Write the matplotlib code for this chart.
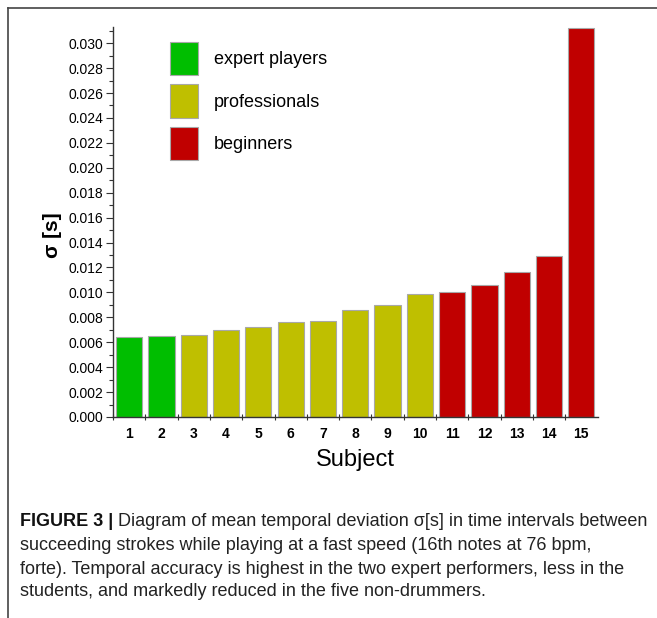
import matplotlib
matplotlib.use("Agg")
import matplotlib.pyplot as plt
from matplotlib.patches import Rectangle
from matplotlib.lines import Line2D
from matplotlib.ticker import MultipleLocator, FixedLocator, NullFormatter, FormatStrFormatter

plt.rcParams['font.family'] = ['Liberation Sans', 'DejaVu Sans']

subjects = list(range(1, 16))
sigma = [0.0064, 0.0065, 0.0066, 0.0070, 0.0072, 0.0076, 0.0077, 0.0086,
         0.0090, 0.0099, 0.0100, 0.0106, 0.0116, 0.0129, 0.0312]
groups = ['expert players'] * 2 + ['professionals'] * 8 + ['beginners'] * 5
group_names = ['expert players', 'professionals', 'beginners']
group_colors = {'expert players': '#00BE00', 'professionals': '#BFBF00', 'beginners': '#C00000'}
caption_bold = "FIGURE 3 |"
caption_lines = [
    " Diagram of mean temporal deviation \u03c3[s] in time intervals between",
    "succeeding strokes while playing at a fast speed (16th notes at 76 bpm,",
    "forte). Temporal accuracy is highest in the two expert performers, less in the",
    "students, and markedly reduced in the five non-drummers.",
]

W, H = 657, 618
fig = plt.figure(figsize=(W / 100, H / 100), dpi=100)
ax = fig.add_axes([113 / W, 1 - 417 / H, (597.5 - 113) / W, (417 - 27) / H])

colors = [group_colors[g] for g in groups]
ax.bar(subjects, sigma, width=0.81, color=colors, edgecolor='#a8a8a8', linewidth=0.8, zorder=2)

ax.set_xlim(0.5, 15.5)
ax.set_ylim(0, 0.0313)
for s in ['top', 'right']:
    ax.spines[s].set_visible(False)
for s in ['left', 'bottom']:
    ax.spines[s].set_color('#333333')
    ax.spines[s].set_linewidth(1.0)

ax.yaxis.set_major_locator(MultipleLocator(0.002))
ax.yaxis.set_minor_locator(MultipleLocator(0.001))
ax.yaxis.set_major_formatter(FormatStrFormatter('%.3f'))
ax.tick_params(axis='y', which='major', length=5, width=0.8, color='#333333', labelsize=10, pad=2)
ax.tick_params(axis='y', which='minor', length=3, width=0.8, color='#333333')

ax.set_xticks(subjects)
ax.set_xticklabels([str(s) for s in subjects], fontweight='bold')
ax.tick_params(axis='x', which='major', length=0, labelsize=10, pad=7)
ax.xaxis.set_minor_locator(FixedLocator([i + 0.5 for i in range(0, 15)]))
ax.xaxis.set_minor_formatter(NullFormatter())
ax.tick_params(axis='x', which='minor', length=5, width=0.8, color='#333333', direction='inout')

ax.set_xlabel('Subject', fontsize=17, labelpad=6)
fig.text(52 / W, 1 - 235 / H, '\u03c3 [s]', fontsize=15, fontweight='bold',
         rotation=90, ha='center', va='center')

handles = [Rectangle((0, 0), 1, 1, facecolor=group_colors[g], edgecolor='#a8a8a8', linewidth=0.8)
           for g in group_names]
fig.legend(handles, group_names, loc='upper left', bbox_to_anchor=(163 / W, 1 - 35 / H),
           frameon=False, fontsize=13, handlelength=1.55, handleheight=2.45,
           handletextpad=0.85, labelspacing=0.5, borderaxespad=0)

fig.add_artist(Line2D([8 / W, 1], [1 - 8 / H, 1 - 8 / H], color='#444444', lw=1.2))
fig.add_artist(Line2D([8 / W, 8 / W], [0, 1 - 8 / H], color='#444444', lw=1.2))

x0 = 20 / W
ys = [522, 546, 569, 591]
fs = 13
t = fig.text(x0, 1 - ys[0] / H, caption_bold, fontsize=fs, fontweight='bold', va='center', color='#111111')
fig.canvas.draw()
bb = t.get_window_extent(fig.canvas.get_renderer())
fig.text(bb.x1 / W, 1 - ys[0] / H, caption_lines[0], fontsize=fs, va='center', color='#222222')
for line, y in zip(caption_lines[1:], ys[1:]):
    fig.text(x0, 1 - y / H, line, fontsize=fs, va='center', color='#222222')

fig.savefig('out.png', dpi=100)
